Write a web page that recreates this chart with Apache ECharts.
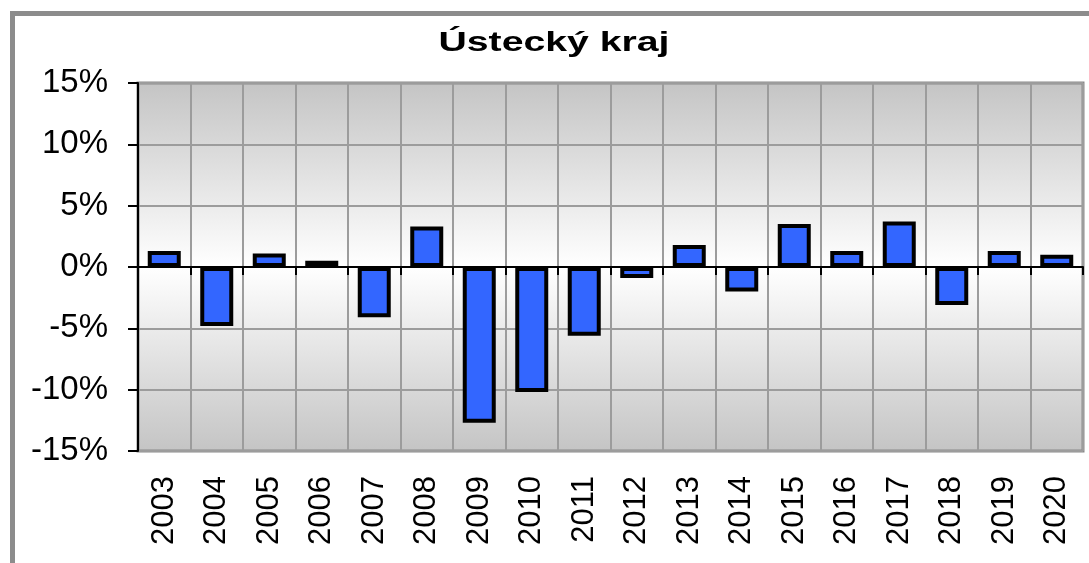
<!DOCTYPE html>
<html>
<head>
<meta charset="utf-8">
<script src="https://cdn.jsdelivr.net/npm/echarts@6/dist/echarts.min.js"></script>
<style>html,body{margin:0;padding:0;background:#fff}#c{width:1089px;height:563px}</style>
</head>
<body>
<div id="c"></div>
<script>
const title = 'Ústecký kraj';
const years = ['2003','2004','2005','2006','2007','2008','2009','2010','2011','2012','2013','2014','2015','2016','2017','2018','2019','2020'];
const values = [1.3, -4.8, 1.1, 0.5, -4.1, 3.3, -12.7, -10.2, -5.6, -0.9, 1.8, -2.0, 3.5, 1.3, 3.7, -3.1, 1.3, 1.0];
const yMin = -15, yMax = 15, yStep = 5;

const chart = echarts.init(document.getElementById('c'));
const font = 'Liberation Sans, Arial, sans-serif';
chart.setOption({
  animation: false,
  backgroundColor: '#fff',
  graphic: [
    { type: 'rect', z: 100, silent: true,
      shape: { x: 12.5, y: 13.5, width: 1300, height: 800 },
      style: { fill: 'none', stroke: '#8c8c8c', lineWidth: 5 } },
    { type: 'text', x: 554, y: 43, scaleX: 1.4, z: 100,
      style: { text: title, font: 'bold 28px ' + font, fill: '#000',
               textAlign: 'center', textVerticalAlign: 'middle' } }
  ],
  grid: {
    left: 138, top: 83, right: 6, bottom: 112,
    show: true, borderColor: '#8a8a8a', borderWidth: 3,
    backgroundColor: { type: 'linear', x: 0, y: 0, x2: 0, y2: 1,
      colorStops: [
        { offset: 0, color: '#c4c4c4' },
        { offset: 0.5, color: '#ffffff' },
        { offset: 1, color: '#c4c4c4' }
      ] }
  },
  xAxis: [
    { type: 'category', data: years, position: 'bottom',
      axisLine: { show: true, onZero: true, lineStyle: { color: '#000', width: 2 } },
      axisTick: { show: true, length: 8, interval: 0, lineStyle: { color: '#000', width: 2 } },
      axisLabel: { show: false },
      splitLine: { show: true, interval: 0, lineStyle: { color: '#9c9c9c', width: 2 } } },
    { type: 'category', data: years, position: 'bottom',
      axisLine: { show: false, onZero: false },
      axisTick: { show: false },
      axisLabel: { show: true, interval: 0, rotate: 90, margin: 25,
                   fontFamily: font, fontSize: 31, color: '#000' },
      splitLine: { show: false } }
  ],
  yAxis: {
    type: 'value', min: yMin, max: yMax, interval: yStep,
    axisLine: { show: true, lineStyle: { color: '#000', width: 2 } },
    axisTick: { show: true, length: 10, lineStyle: { color: '#000', width: 2 } },
    axisLabel: { formatter: '{value}%', margin: 30, fontFamily: font, fontSize: 33, color: '#000' },
    splitLine: { show: true, lineStyle: { color: '#9c9c9c', width: 2 } }
  },
  series: [{
    type: 'bar', xAxisIndex: 0, data: values, barWidth: 33,
    itemStyle: { color: '#3366ff', borderColor: '#000', borderWidth: 4 }
  }]
});
</script>
</body>
</html>
